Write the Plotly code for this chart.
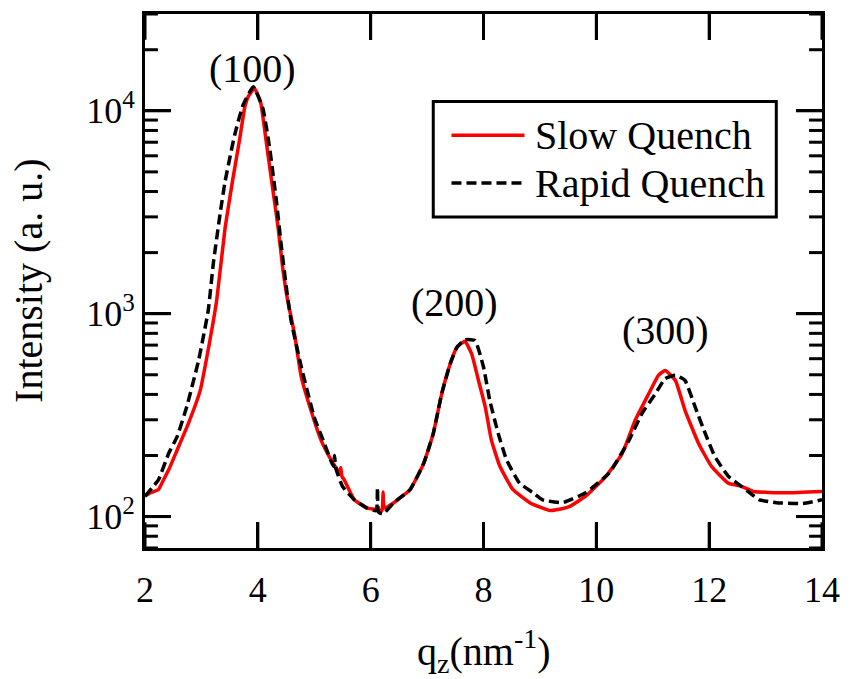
import math
import plotly.graph_objects as go
from plotly.subplots import make_subplots

# ---- data ----
slow_q = [2.00, 2.10, 2.24, 2.33, 2.42, 2.57, 2.77, 2.98, 3.15, 3.27, 3.42, 3.55, 3.68, 3.77, 3.83,
          3.94, 4.05, 4.15, 4.25, 4.36, 4.44, 4.52, 4.65, 4.77, 4.94, 5.12, 5.30, 5.45, 5.47, 5.49,
          5.53, 5.71, 5.94, 6.12, 6.20, 6.22, 6.24, 6.41, 6.70, 6.94, 7.11, 7.26, 7.41, 7.53, 7.67,
          7.79, 7.91, 8.03, 8.14, 8.29, 8.52, 8.82, 9.05, 9.18, 9.29, 9.52, 9.81, 10.17, 10.46, 10.69,
          10.93, 11.10, 11.22, 11.40, 11.57, 11.81, 12.04, 12.34, 12.57, 12.78, 13.36, 14.00]
slow_i = [126, 131, 136, 152, 170, 213, 288, 420, 738, 1160, 2650, 4490, 7310, 10470, 11750,
          12900, 11000, 7000, 4400, 2650, 1690, 1200, 794, 488, 335, 238, 190, 164, 174, 158,
          152, 121, 110, 108, 107, 132, 110, 117, 136, 183, 257, 404, 566, 684, 731,
          634, 470, 348, 238, 177, 136, 117, 110, 107, 108, 112, 126, 158, 205, 299,
          404, 497, 525, 470, 335, 230, 177, 146, 141, 133, 131, 133]

rapid_q = [2.00, 2.12, 2.24, 2.42, 2.57, 2.74, 2.95, 3.12, 3.21, 3.33, 3.42, 3.59, 3.74, 3.92,
           4.09, 4.21, 4.33, 4.42, 4.52, 4.59, 4.77, 5.00, 5.18, 5.34, 5.36, 5.38, 5.50, 5.71,
           5.94, 6.10, 6.12, 6.14, 6.22, 6.41, 6.70, 6.94, 7.11, 7.26, 7.41, 7.53, 7.67, 7.85,
           8.00, 8.11, 8.26, 8.41, 8.64, 8.88, 9.05, 9.40, 9.81, 10.23, 10.58, 10.81, 11.05,
           11.22, 11.40, 11.57, 11.75, 11.93, 12.10, 12.34, 12.57, 12.72, 12.89, 13.19, 13.66, 14.00]
rapid_i = [126, 138, 152, 205, 248, 348, 589, 1035, 1758, 3090, 4490, 7620, 10720, 13120,
           10260, 6530, 3580, 2110, 1253, 925, 546, 309, 229, 177, 200, 174, 141, 121,
           110, 107, 139, 105, 103, 117, 136, 183, 257, 404, 566, 684, 743, 738,
           546, 375, 257, 190, 146, 131, 121, 117, 131, 164, 238, 323, 404,
           479, 497, 470, 348, 257, 198, 158, 141, 131, 121, 117, 116, 121]

x_ticks = [2, 4, 6, 8, 10, 12, 14]
y_ticks = [100, 1000, 10000]
y_ticktext = ["10<sup>2</sup>", "10<sup>3</sup>", "10<sup>4</sup>"]
y_minor = [70, 80, 90, 200, 300, 400, 500, 600, 700, 800, 900,
           2000, 3000, 4000, 5000, 6000, 7000, 8000, 9000, 20000, 30000]

peak_labels = ["(100)", "(200)", "(300)"]
peak_q = [3.9, 7.49, 11.23]
peak_i = [16100, 1140, 826]

series_names = ["Slow Quench", "Rapid Quench"]
x_title = "q<sub>z</sub>(nm<sup>-1</sup>)"
y_title = "Intensity (a. u.)"

FONT = "Liberation Serif"
W, H = 851, 679
ML, MR, MT, MB = 145, 25, 11, 131
PW, PH = W - ML - MR, H - MT - MB
X_RANGE = [2, 14]
Y_RANGE = [70, 30000]

fig = make_subplots(rows=1, cols=1)
fig.add_trace(go.Scatter(x=slow_q, y=slow_i, mode="lines", name=series_names[0],
                         line=dict(color="#ff0000", width=3.5, shape="spline", smoothing=0.4),
                         showlegend=False), row=1, col=1)
fig.add_trace(go.Scatter(x=rapid_q, y=rapid_i, mode="lines", name=series_names[1],
                         line=dict(color="#000000", width=3.5, dash="10px,5px",
                                   shape="spline", smoothing=0.4),
                         showlegend=False), row=1, col=1)

# inside tick marks on all four sides, built from the tick lists and the axis ranges
x_span = X_RANGE[1] - X_RANGE[0]
dec_span = math.log10(Y_RANGE[1]) - math.log10(Y_RANGE[0])
maj_dx = 26 * x_span / PW
min_dx = 13 * x_span / PW
maj_fy = 10 ** (26 * dec_span / PH)
tx, ty = [], []
for v in x_ticks:
    tx += [v, v, None, v, v, None]
    ty += [Y_RANGE[0], Y_RANGE[0] * maj_fy, None, Y_RANGE[1], Y_RANGE[1] / maj_fy, None]
for vals, d in ((y_ticks, maj_dx), (y_minor, min_dx)):
    for v in vals:
        tx += [X_RANGE[0], X_RANGE[0] + d, None, X_RANGE[1] - d, X_RANGE[1], None]
        ty += [v, v, None, v, v, None]
fig.add_trace(go.Scatter(x=tx, y=ty, mode="lines", line=dict(color="black", width=3),
                         hoverinfo="skip", showlegend=False, connectgaps=False), row=1, col=1)

for lab, q, i in zip(peak_labels, peak_q, peak_i):
    fig.add_annotation(x=q, y=math.log10(i), xref="x", yref="y", text=lab, showarrow=False,
                       font=dict(family=FONT, size=40, color="black"))

# axis titles
fig.add_annotation(x=0.5, y=-0.193, xref="paper", yref="paper", text=x_title, showarrow=False,
                   xanchor="center", yanchor="middle", font=dict(family=FONT, size=40, color="black"))
fig.add_annotation(x=-0.173, y=0.5, xref="paper", yref="paper", text=y_title, showarrow=False,
                   textangle=-90, xanchor="center", yanchor="middle",
                   font=dict(family=FONT, size=40, color="black"))

# manual legend (box, sample lines, labels)
fig.add_shape(type="rect", xref="paper", yref="paper", x0=0.4258, x1=0.9325, y0=0.620, y1=0.836,
              line=dict(color="black", width=3), fillcolor="white")
fig.add_shape(type="line", xref="paper", yref="paper", x0=0.4527, x1=0.5605, y0=0.7728, y1=0.7728,
              line=dict(color="#ff0000", width=3.5))
fig.add_shape(type="line", xref="paper", yref="paper", x0=0.4527, x1=0.5605, y0=0.6834, y1=0.6834,
              line=dict(color="black", width=3.5, dash="10px,5px"))
for name, yy in zip(series_names, [0.7728, 0.6834]):
    fig.add_annotation(x=0.5727, y=yy, xref="paper", yref="paper", text=name, showarrow=False,
                       xanchor="left", yanchor="middle",
                       font=dict(family=FONT, size=40, color="black"))

fig.update_layout(
    width=W, height=H,
    margin=dict(l=ML, r=MR, t=MT, b=MB),
    paper_bgcolor="white", plot_bgcolor="white",
    font=dict(family=FONT, size=36, color="black"),
    showlegend=False,
)
fig.update_xaxes(
    range=X_RANGE, tickmode="array", tickvals=x_ticks,
    ticks="inside", ticklen=26, tickwidth=3, tickcolor="black",
    showline=True, linewidth=3, linecolor="black", mirror="ticks",
    showgrid=False, zeroline=False, ticklabelstandoff=8,
    tickfont=dict(family=FONT, size=36),
)
fig.update_yaxes(
    type="log", range=[math.log10(Y_RANGE[0]), math.log10(Y_RANGE[1])],
    tickmode="array", tickvals=y_ticks, ticktext=y_ticktext,
    ticks="inside", ticklen=26, tickwidth=3, tickcolor="black",
    showline=True, linewidth=3, linecolor="black", mirror="ticks",
    showgrid=False, zeroline=False,
    tickfont=dict(family=FONT, size=36),
)

fig.write_html("out.html")
